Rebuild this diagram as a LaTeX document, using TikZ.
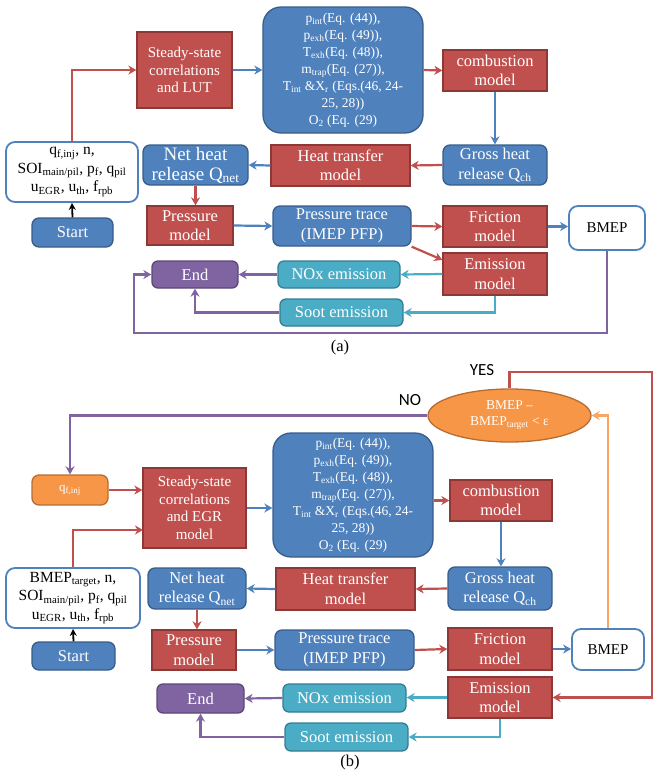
\documentclass[tikz,border=0pt]{standalone}
\usepackage{fontspec}
\setmainfont{Liberation Serif}
\newfontfamily\etiqfont{Carlito}
\usetikzlibrary{arrows.meta,shapes.geometric}

\definecolor{rojo}{HTML}{C0504D}
\definecolor{rojoborde}{HTML}{8C3836}
\definecolor{azul}{HTML}{4F81BD}
\definecolor{azulborde}{HTML}{385D8A}
\definecolor{turquesa}{HTML}{4BACC6}
\definecolor{turquesaborde}{HTML}{357D91}
\definecolor{morado}{HTML}{8064A2}
\definecolor{moradoborde}{HTML}{5C4776}
\definecolor{naranja}{HTML}{F79646}
\definecolor{naranjaborde}{HTML}{B66D31}

\tikzset{
  caja/.style={align=center, inner sep=2pt, line width=1.3pt, font=\fontsize{16.5}{19.5}\selectfont},
  cajaroja/.style={caja, fill=rojo, draw=rojoborde, text=white},
  cajaazul/.style={caja, fill=azul, draw=azulborde, text=white, rounded corners=7pt},
  cajaturq/.style={caja, fill=turquesa, draw=turquesaborde, text=white, rounded corners=6pt},
  cajamorada/.style={caja, fill=morado, draw=moradoborde, text=white, rounded corners=6pt},
  cajanaranja/.style={caja, fill=naranja, draw=naranjaborde, text=white, rounded corners=7pt},
  cajablanca/.style={caja, fill=white, draw=azul, line width=1.8pt, text=black, rounded corners=9pt},
  flecha/.style={line width=2.2pt, -{Stealth[length=8pt,width=9pt,inset=2.5pt]}},
  flecharoja/.style={flecha, draw=rojo},
  flechaazul/.style={flecha, draw=azul},
  flechaturq/.style={flecha, draw=turquesa},
  flechamorada/.style={flecha, draw=morado},
  flechanaranja/.style={flecha, draw=naranja!85!white},
  flechanegra/.style={line width=1.8pt, draw=black, -{Stealth[length=7pt,width=7pt]}},
  etiqueta/.style={font=\etiqfont\fontsize{17}{19}\selectfont},
  pie/.style={font=\fontsize{16.5}{19}\selectfont}
}

\begin{document}
\begin{tikzpicture}[x=1pt, y=-1pt]
  \useasboundingbox (0,0) rectangle (654,774);

  % Parte (a): cajas
  \node[cajablanca, minimum width=132pt, minimum height=60pt, font=\fontsize{15.5}{18.5}\selectfont] (inA) at (72,172)
    {q\textsubscript{f,inj}, n,\\SOI\textsubscript{main/pil}, p\textsubscript{f}, q\textsubscript{pil}\\u\textsubscript{EGR}, u\textsubscript{th}, f\textsubscript{rpb}};
  \node[cajaazul, minimum width=81pt, minimum height=29pt] (startA) at (72.5,232.5) {Start};
  \node[cajaroja, minimum width=95pt, minimum height=76pt, font=\fontsize{15}{17.5}\selectfont] (ssA) at (184.5,70)
    {Steady-state\\correlations\\and LUT};
  \node[cajaazul, rounded corners=18pt, minimum width=160pt, minimum height=126pt, font=\fontsize{13.5}{17}\selectfont] (eqA) at (343,70)
    {p\textsubscript{int}(Eq. (44)),\\p\textsubscript{exh}(Eq. (49)),\\T\textsubscript{exh}(Eq. (48)),\\m\textsubscript{trap}(Eq. (27)),\\T\textsubscript{int} \&X\textsubscript{r} (Eqs.(46, 24-\\25, 28))\\O\textsubscript{2} (Eq. (29)};
  \node[cajaroja, minimum width=104pt, minimum height=41pt] (combA) at (495,70.5) {combustion\\model};
  \node[cajaazul, minimum width=104pt, minimum height=40pt] (grossA) at (495,165) {Gross heat\\release Q\textsubscript{ch}};
  \node[cajaroja, minimum width=139pt, minimum height=41pt] (heatA) at (340.5,165.5) {Heat transfer\\model};
  \node[cajaazul, minimum width=105pt, minimum height=40pt, inner sep=0pt, font=\fontsize{19}{20}\selectfont] (netA) at (195.5,165) {Net heat\\release Q\textsubscript{net}};
  \node[cajaroja, minimum width=86pt, minimum height=39pt] (presA) at (190,225.5) {Pressure\\model};
  \node[cajaazul, minimum width=138pt, minimum height=40pt] (traceA) at (342,226) {Pressure trace\\(IMEP PFP)};
  \node[cajaroja, minimum width=104pt, minimum height=41pt] (fricA) at (495,226.5) {Friction\\model};
  \node[cajablanca, minimum width=76pt, minimum height=44pt, font=\fontsize{15}{18}\selectfont] (bmepA) at (607,228) {BMEP};
  \node[cajaroja, minimum width=104pt, minimum height=42pt] (emisA) at (495,274) {Emission\\model};
  \node[cajaturq, minimum width=122pt, minimum height=27pt] (noxA) at (339,274.5) {NOx emission};
  \node[cajamorada, minimum width=86pt, minimum height=27pt] (endA) at (195,274.5) {End};
  \node[cajaturq, minimum width=123pt, minimum height=27pt] (sootA) at (341.5,312.5) {Soot emission};
  \node[pie] (capA) at (340,348) {(a)};
  \coordinate (bucleA) at (134,333);

  % Parte (a): flechas
  \draw[flechanegra] (startA.north) -- (inA.south);
  \draw[flecharoja] (inA.north) |- (ssA.west);
  \draw[flechaazul] (ssA.east) -- (eqA.west);
  \draw[flecharoja] (eqA.east) -- (combA.west);
  \draw[flechaazul] (combA.south) -- (grossA.north);
  \draw[flecharoja] (grossA.west) -- (heatA.east);
  \draw[flechaazul] (heatA.west) -- (netA.east);
  \draw[flecharoja] (netA.south) -- (netA.south |- presA.north);
  \draw[flechaazul] (presA.east) -- (traceA.west);
  \draw[flecharoja] (traceA.east) -- (fricA.west);
  \draw[flecharoja] (traceA.south east) -- (emisA.165);
  \draw[flechaazul] (fricA.east) -- (fricA.east -| bmepA.west);
  \draw[flechaturq] (emisA.west) -- (noxA.east);
  \draw[flechamorada] (noxA.west) -- (endA.east);
  \draw[flechaturq] (emisA.south) |- (sootA.east);
  \draw[flechamorada] (sootA.west) -| (endA.south);
  \draw[flechamorada] (bmepA.south) |- (bucleA) |- (endA.west);

  % Parte (b): cajas
  \node[cajanaranja, shape=ellipse, inner sep=0pt, minimum width=163pt, minimum height=53pt, font=\fontsize{13.5}{16}\selectfont] (ellB) at (509.5,415.5)
    {BMEP –\\BMEP\textsubscript{target} < ε};
  \node[etiqueta] (yesB) at (482,370) {YES};
  \node[etiqueta] (noB) at (410,400) {NO};
  \node[cajanaranja, minimum width=76pt, minimum height=30pt, font=\fontsize{13}{15}\selectfont] (qB) at (70,490) {q\textsubscript{f,inj}};
  \node[cajaroja, minimum width=103pt, minimum height=80pt, font=\fontsize{15}{17.5}\selectfont] (ssB) at (194.5,508)
    {Steady-state\\correlations\\and EGR\\model};
  \node[cajaazul, rounded corners=18pt, minimum width=160pt, minimum height=124pt, font=\fontsize{13.5}{17}\selectfont] (eqB) at (353,495)
    {p\textsubscript{int}(Eq. (44)),\\p\textsubscript{exh}(Eq. (49)),\\T\textsubscript{exh}(Eq. (48)),\\m\textsubscript{trap}(Eq. (27)),\\T\textsubscript{int} \&X\textsubscript{r} (Eqs.(46, 24-\\25, 28))\\O\textsubscript{2} (Eq. (29)};
  \node[cajaroja, minimum width=102pt, minimum height=41pt] (combB) at (501,500.5) {combustion\\model};
  \node[cajaazul, minimum width=104pt, minimum height=43pt] (grossB) at (500,588.5) {Gross heat\\release Q\textsubscript{ch}};
  \node[cajaroja, minimum width=139pt, minimum height=42pt] (heatB) at (345.5,589) {Heat transfer\\model};
  \node[cajaazul, minimum width=98pt, minimum height=41pt] (netB) at (197,588.5) {Net heat\\release Q\textsubscript{net}};
  \node[cajablanca, minimum width=134pt, minimum height=60pt, font=\fontsize{15.5}{18.5}\selectfont] (inB) at (73,598)
    {BMEP\textsubscript{target}, n,\\SOI\textsubscript{main/pil}, p\textsubscript{f}, q\textsubscript{pil}\\u\textsubscript{EGR}, u\textsubscript{th}, f\textsubscript{rpb}};
  \node[cajaazul, minimum width=83pt, minimum height=28pt] (startB) at (73.5,656) {Start};
  \node[cajaroja, minimum width=84pt, minimum height=40pt] (presB) at (194,650) {Pressure\\model};
  \node[cajaazul, minimum width=139pt, minimum height=40pt] (traceB) at (344.5,650) {Pressure trace\\(IMEP PFP)};
  \node[cajaroja, minimum width=104pt, minimum height=42pt] (fricB) at (500,649) {Friction\\model};
  \node[cajablanca, minimum width=72pt, minimum height=41pt, font=\fontsize{15}{18}\selectfont] (bmepB) at (608,649.5) {BMEP};
  \node[cajaroja, minimum width=104pt, minimum height=41pt] (emisB) at (500,697.5) {Emission\\model};
  \node[cajaturq, minimum width=123pt, minimum height=28pt] (noxB) at (344.5,698) {NOx emission};
  \node[cajamorada, minimum width=87pt, minimum height=29pt] (endB) at (200.5,698.5) {End};
  \node[cajaturq, minimum width=123pt, minimum height=28pt] (sootB) at (346.5,737) {Soot emission};
  \node[pie] (capB) at (350,763) {(b)};
  \coordinate (esquinaB) at (652,372);
  \coordinate (entradaB) at (143,530);

  % Parte (b): flechas
  \draw[flechamorada] (ellB.west) -| (qB.north);
  \draw[flecharoja] (ellB.north) |- (esquinaB) |- (emisB.east);
  \draw[flechanaranja] (bmepB.north) |- (ellB.east);
  \draw[flecharoja] (qB.east) -- (qB.east -| ssB.west);
  \draw[flecharoja] (inB.north) |- (entradaB);
  \draw[flechanegra] (startB.north) -- (inB.south);
  \draw[flechaazul] (ssB.east) -- (ssB.east -| eqB.west);
  \draw[flecharoja] (eqB.east |- combB.west) -- (combB.west);
  \draw[flechaazul] (combB.south) -- (combB.south |- grossB.north);
  \draw[flecharoja] (grossB.west) -- (heatB.east);
  \draw[flechaazul] (heatB.west) -- (netB.east);
  \draw[flecharoja] (netB.south) -- (netB.south |- presB.north);
  \draw[flechaazul] (presB.east) -- (traceB.west);
  \draw[flecharoja] (traceB.east) -- (fricB.west);
  \draw[flechaazul] (fricB.east) -- (fricB.east -| bmepB.west);
  \draw[flechaturq] (emisB.west) -- (emisB.west -| noxB.east);
  \draw[flechamorada] (noxB.west) -- (endB.east);
  \draw[flechaturq] (emisB.south) |- (sootB.east);
  \draw[flechamorada] (sootB.west) -| (endB.south);
\end{tikzpicture}
\end{document}
